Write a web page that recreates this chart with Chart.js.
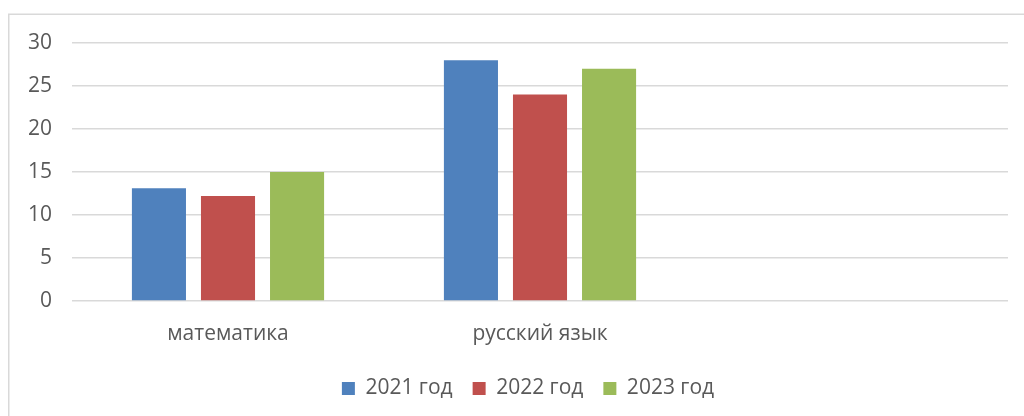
<!DOCTYPE html>
<html lang="ru">
<head>
  <meta charset="UTF-8">
  <title>Результаты по предметам</title>
  <script src="https://cdn.jsdelivr.net/npm/chart.js"></script>
  <style>
    html, body { margin: 0; padding: 0; background: #fff; }
    #wrap { width: 1024px; height: 416px; position: relative; }
  </style>
</head>
<body>
  <div id="wrap">
    <canvas id="scoreChart" width="1024" height="416"></canvas>
  </div>

  <script>
    // chart data
    const subjects = ['математика', 'русский язык', ''];
    const seriesNames = ['2021 год', '2022 год', '2023 год'];
    const values2021 = [13.1, 28, null];
    const values2022 = [12.2, 24, null];
    const values2023 = [15, 27, null];
    const yTicks = [0, 5, 10, 15, 20, 25, 30];

    const colors = ['#4F81BD', '#C0504D', '#9BBB59'];
    const textColor = '#595959';
    const gridColor = '#D9D9D9';

    // light frame around the chart, like the office chart border
    const framePlugin = {
      id: 'frame',
      afterLayout(chart) {
        // legend sits a little right of the canvas centre in the original
        if (chart.legend) {
          chart.legend.left += 24;
          chart.legend.right += 24;
        }
      },
      beforeDraw(chart) {
        const ctx = chart.ctx;
        ctx.save();
        ctx.fillStyle = '#fff';
        ctx.fillRect(0, 0, chart.width, chart.height);
        ctx.strokeStyle = '#D9D9D9';
        ctx.lineWidth = 1.5;
        ctx.strokeRect(8.75, 14.25, chart.width + 20, chart.height + 20);
        ctx.restore();
      }
    };

    const datasets = [values2021, values2022, values2023].map((vals, i) => ({
      label: seriesNames[i],
      data: vals,
      backgroundColor: colors[i],
      borderWidth: 0,
      categoryPercentage: 0.664,
      barPercentage: 0.783
    }));

    Chart.defaults.font.family = '"Open Sans", "Noto Sans", sans-serif';
    Chart.defaults.color = textColor;

    new Chart(document.getElementById('scoreChart'), {
      type: 'bar',
      data: { labels: subjects, datasets },
      plugins: [framePlugin],
      options: {
        responsive: false,
        animation: false,
        layout: { padding: { top: 43, right: 16, left: 0, bottom: 7 } },
        plugins: {
          tooltip: { enabled: false },
          legend: {
            position: 'bottom',
            labels: {
              boxWidth: 13,
              boxHeight: 13,
              padding: 20,
              color: textColor,
              font: { size: 21 }
            }
          }
        },
        scales: {
          x: {
            grid: { display: false, drawTicks: false },
            border: { display: false },
            ticks: { padding: 20, font: { size: 21 }, color: textColor },
            afterFit(scale) { scale.height = 57; }
          },
          y: {
            min: 0,
            max: 30,
            afterBuildTicks(scale) { scale.ticks = yTicks.map(v => ({ value: v })); },
            grid: { color: gridColor, lineWidth: 1.5, drawTicks: false },
            border: { display: false },
            ticks: { padding: 20, font: { size: 21 }, color: textColor },
            afterFit(scale) { scale.width = 72; }
          }
        }
      }
    });
  </script>
</body>
</html>
